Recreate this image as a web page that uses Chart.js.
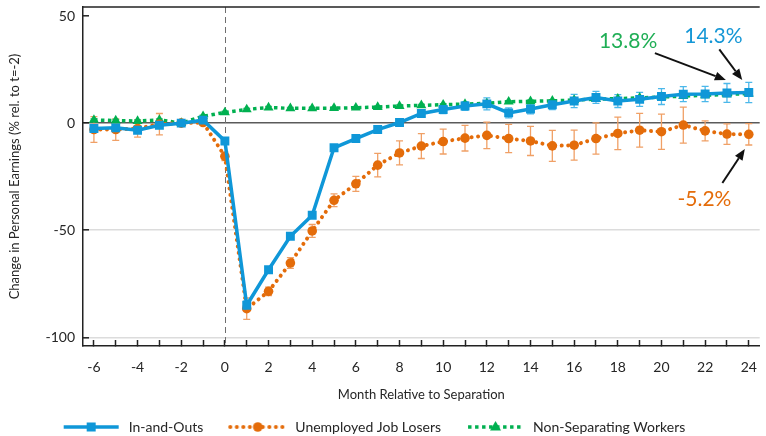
<!DOCTYPE html>
<html><head><meta charset="utf-8">
<script src="https://cdn.jsdelivr.net/npm/chart.js@4/dist/chart.umd.min.js"></script>
<style>html,body{margin:0;padding:0;background:#fff}canvas{display:block}</style>
</head><body>
<canvas id="c" width="766" height="436" style="width:766px;height:436px"></canvas>
<script>
// ---------------- data ----------------
const months = [-6,-5,-4,-3,-2,-1,0,1,2,3,4,5,6,7,8,9,10,11,12,13,14,15,16,17,18,19,20,21,22,23,24];
const inAndOuts = [-2.5,-2.2,-3.3,-1,0,1.4,-8.3,-85,-68.4,-52.8,-43,-11.5,-7.2,-3,0.3,4.5,6.4,8,9,4.8,6.6,8.6,10.3,12,10.3,11.1,12.4,13.5,13.6,14.1,14.3];
const inAndOutsErr = [1,1,1,1,0.5,1,1.2,2,1.2,1.2,1.2,1.2,1.2,1.3,1.5,1.5,2,2,2.8,2.3,2.3,2.3,3.1,2.8,3,3.3,3.7,3.5,3.6,4.4,4.7];
const jobLosers = [-3,-3,-2.5,-0.5,0,0.3,-15.5,-86.6,-78.5,-65.3,-50.3,-36,-28.3,-19.6,-13.9,-10.7,-8.6,-7,-5.7,-7.2,-8.3,-10.6,-10.3,-7.2,-4.8,-3.3,-4,-0.9,-3.6,-5.1,-5.2];
const jobLosersErr = [6,5,4,5,0.5,1,2,5,2,2.5,3,3,3.5,5.5,5.6,5.8,5.8,6,6.2,6.6,6.8,7.2,7,7.3,7.6,7.9,8.2,8.4,4.7,4.8,5];
const nonSeparating = [1.5,1.2,1,1.5,0,3.2,5,6.4,7.3,6.9,6.9,7,7.2,7.5,8,8.3,8.6,8.9,9.2,10,10.2,10.4,10.8,11.2,11.4,11.8,12.2,12.6,13,13.4,13.8];
const nonSeparatingErr = months.map(() => 0.5);
const seriesNames = ['In-and-Outs', 'Unemployed Job Losers', 'Non-Separating Workers'];
const yTickValues = [50, 0, -50, -100];
const xTitle = 'Month Relative to Separation';
const yTitle = 'Change in Personal Earnings (% rel. to t=-2)';
const separationMonth = 0;
const annotationTexts = ['13.8%', '14.3%', '-5.2%'];

// ---------------- styles ----------------
const FONT = 'Lato, "Open Sans", sans-serif';
const BLUE = '#0f97d8', ORANGE = '#e46c0a', GREEN = '#00b050';
const TXT = '#262626';

const toXY = (vals) => vals.map((v, i) => ({x: months[i], y: v}));

function legendImage(kind, color) {
  const c = document.createElement('canvas');
  c.width = 75; c.height = 14;
  const g = c.getContext('2d');
  const y = 7, x0 = 17, x1 = 72, xm = (x0 + x1) / 2;
  g.strokeStyle = color; g.fillStyle = color;
  g.beginPath(); g.moveTo(x0, y); g.lineTo(x1, y);
  if (kind === 'solid') { g.lineWidth = 3.5; g.stroke(); g.fillRect(xm - 4.5, y - 4.5, 9, 9); }
  if (kind === 'round') { g.lineWidth = 4; g.lineCap = 'round'; g.setLineDash([0.01, 6.5]); g.stroke(); g.setLineDash([]); g.beginPath(); g.arc(xm, y, 4.8, 0, Math.PI * 2); g.fill(); }
  if (kind === 'square') { g.lineWidth = 3.5; g.setLineDash([3.5, 3.5]); g.stroke(); g.setLineDash([]); g.beginPath(); g.moveTo(xm, y - 6); g.lineTo(xm + 5.5, y + 3.5); g.lineTo(xm - 5.5, y + 3.5); g.closePath(); g.fill(); }
  return c;
}
const legendImgs = [legendImage('solid', BLUE), legendImage('round', ORANGE), legendImage('square', GREEN)];

const annotations = [
  {text: annotationTexts[0], color: '#1fae55', tx: 18.47, ty: 38.0, from: [19.7, 32.7], to: [22.95, 20.1]},
  {text: annotationTexts[1], color: '#1597d6', tx: 22.38, ty: 40.7, from: [22.65, 34.4], to: [23.7, 20.1]},
  {text: annotationTexts[2], color: ORANGE, tx: 21.97, ty: -35.5, from: [22.79, -27.9], to: [23.82, -12.1]}
];

// ---------------- plugins ----------------
const framePlugin = {
  id: 'frame',
  beforeDatasetsDraw(chart) {
    const {ctx, chartArea: a, scales: {x}} = chart;
    ctx.save();
    const px = Math.round(x.getPixelForValue(separationMonth)) + 0.5;
    ctx.strokeStyle = '#6e6e6e'; ctx.lineWidth = 1; ctx.setLineDash([6, 4]);
    ctx.beginPath(); ctx.moveTo(px, a.top); ctx.lineTo(px, a.bottom); ctx.stroke();
    ctx.setLineDash([]);
    ctx.strokeStyle = '#222'; ctx.lineWidth = 1.5;
    ctx.beginPath(); ctx.moveTo(a.left, a.top); ctx.lineTo(a.right, a.top); ctx.stroke();
    chart.data.datasets.forEach((ds, i) => {
      if (!ds.errors || !chart.isDatasetVisible(i)) return;
      const y = chart.scales.y;
      ctx.strokeStyle = ds.errorColor; ctx.lineWidth = 1.3;
      ds.data.forEach((p, j) => {
        const e = ds.errors[j];
        const cx = x.getPixelForValue(p.x);
        const yt = y.getPixelForValue(p.y + e), yb = y.getPixelForValue(p.y - e);
        ctx.beginPath();
        ctx.moveTo(cx, yt); ctx.lineTo(cx, yb);
        ctx.moveTo(cx - 3.5, yt); ctx.lineTo(cx + 3.5, yt);
        ctx.moveTo(cx - 3.5, yb); ctx.lineTo(cx + 3.5, yb);
        ctx.stroke();
      });
    });
    ctx.restore();
  }
};

const annotationPlugin = {
  id: 'annot',
  afterDatasetsDraw(chart) {
    const {ctx, scales: {x, y}} = chart;
    ctx.save();
    annotations.forEach(an => {
      ctx.font = '21px ' + FONT;
      ctx.fillStyle = an.color; ctx.textAlign = 'center'; ctx.textBaseline = 'middle';
      ctx.fillText(an.text, x.getPixelForValue(an.tx), y.getPixelForValue(an.ty));
      const x0 = x.getPixelForValue(an.from[0]), y0 = y.getPixelForValue(an.from[1]);
      const x1 = x.getPixelForValue(an.to[0]), y1 = y.getPixelForValue(an.to[1]);
      const ang = Math.atan2(y1 - y0, x1 - x0), L = 11, W = 4.5;
      const bx = x1 - L * Math.cos(ang), by = y1 - L * Math.sin(ang);
      ctx.strokeStyle = '#111'; ctx.fillStyle = '#111'; ctx.lineWidth = 2;
      ctx.beginPath(); ctx.moveTo(x0, y0); ctx.lineTo(bx, by); ctx.stroke();
      ctx.beginPath(); ctx.moveTo(x1, y1);
      ctx.lineTo(bx + W * Math.sin(ang), by - W * Math.cos(ang));
      ctx.lineTo(bx - W * Math.sin(ang), by + W * Math.cos(ang));
      ctx.closePath(); ctx.fill();
    });
    ctx.restore();
  }
};

// ---------------- chart ----------------
new Chart(document.getElementById('c'), {
  type: 'line',
  data: {
    datasets: [
      {label: seriesNames[0], data: toXY(inAndOuts), errors: inAndOutsErr, errorColor: '#4cb8ea',
       borderColor: BLUE, backgroundColor: BLUE, borderWidth: 3.5, pointStyle: 'rect', pointRadius: 6.3,
       pointBorderWidth: 0, tension: 0},
      {label: seriesNames[1], data: toXY(jobLosers), errors: jobLosersErr, errorColor: '#f0a066',
       borderColor: ORANGE, backgroundColor: ORANGE, borderWidth: 4, borderDash: [0.01, 6.5], borderCapStyle: 'round',
       pointStyle: 'circle', pointRadius: 4.8, pointBorderWidth: 0, tension: 0},
      {label: seriesNames[2], data: toXY(nonSeparating), errors: nonSeparatingErr, errorColor: '#4cc47f',
       borderColor: GREEN, backgroundColor: GREEN, borderWidth: 3.5, borderDash: [3.5, 3.5],
       pointStyle: 'triangle', pointRadius: 5.8, pointBorderWidth: 0, tension: 0}
    ]
  },
  options: {
    responsive: false, animation: false,
    layout: {padding: {left: -34, right: 0, top: 7, bottom: 0}},
    plugins: {
      tooltip: {enabled: false},
      legend: {
        position: 'bottom', maxHeight: 26,
        labels: {
          usePointStyle: true, pointStyleWidth: 75, padding: 10, color: TXT,
          font: {family: FONT, size: 14},
          generateLabels(chart) {
            const items = Chart.defaults.plugins.legend.labels.generateLabels(chart);
            items.forEach((it, i) => { it.pointStyle = legendImgs[i]; it.rotation = 0; it.fontColor = TXT; });
            return items;
          }
        }
      }
    },
    scales: {
      x: {
        type: 'linear', min: -6.5, max: 24.5,
        afterBuildTicks: s => { s.ticks = months.map(v => ({value: v})); },
        ticks: {autoSkip: false, maxRotation: 0, padding: 19, color: TXT,
                font: {family: FONT, size: 14},
                callback: function (v) { return v % 2 === 0 ? String(v) : ''; }},
        grid: {drawOnChartArea: false, drawTicks: true, tickLength: -6, tickColor: '#222', tickWidth: 1.5},
        border: {color: '#222', width: 1.5},
        title: {display: true, text: xTitle, color: TXT, font: {family: FONT, size: 13}, padding: {top: 0, bottom: 7}},
        afterFit: s => { s.height = 64; s.paddingLeft = 0; s.paddingRight = 0; }
      },
      y: {
        min: -104, max: 54.2,
        afterBuildTicks: s => { s.ticks = yTickValues.slice().reverse().map(v => ({value: v})); },
        ticks: {padding: 14, color: TXT, font: {family: FONT, size: 14}},
        grid: {
          color: c => c.tick.value === 0 ? '#5a5a5a' : (c.tick.value === 50 ? 'rgba(0,0,0,0)' : '#dcdcdc'),
          lineWidth: c => c.tick.value === 0 ? 1.5 : 1.6,
          tickLength: -6, tickColor: '#222', tickWidth: 1.5
        },
        border: {color: '#222', width: 1.5},
        title: {display: true, text: yTitle, color: TXT, font: {family: FONT, size: 13}, padding: {top: 41, bottom: 0}},
        afterFit: s => { s.width = 117; s.paddingTop = 0; s.paddingBottom = 0; }
      }
    }
  },
  plugins: [framePlugin, annotationPlugin]
});
</script>
</body></html>
